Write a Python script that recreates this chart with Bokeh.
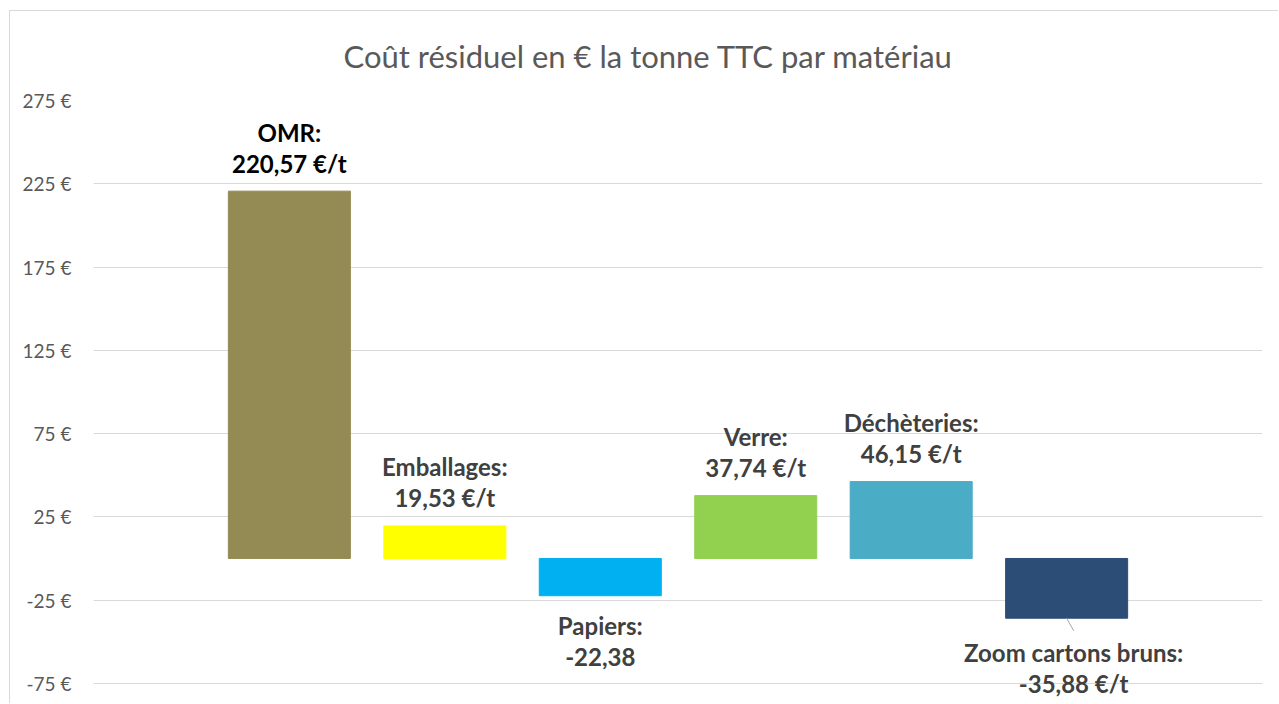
from bokeh.plotting import figure
from bokeh.models import ColumnDataSource, Range1d, FixedTicker, PrintfTickFormatter
from bokeh.core.properties import value
from bokeh.embed import file_html
from bokeh.resources import INLINE

# ---- data ----
categories = ["OMR", "Emballages", "Papiers", "Verre", "Déchèteries", "Zoom cartons bruns"]
values = [220.57, 19.53, -22.38, 37.74, 46.15, -35.88]
name_labels = ["OMR:", "Emballages:", "Papiers:", "Verre:", "Déchèteries:", "Zoom cartons bruns:"]
value_labels = ["220,57 €/t", "19,53 €/t", "-22,38", "37,74 €/t", "46,15 €/t", "-35,88 €/t"]
colors = ["#948A54", "#FFFF00", "#00B0F0", "#92D050", "#4BACC6", "#2C4D75"]
label_colors = ["#000000", "#404040", "#404040", "#404040", "#404040", "#404040"]
y_ticks = [-75, -25, 25, 75, 125, 175, 225, 275]

FONT = "Lato"
xs = list(range(len(categories)))

# label offsets (screen px): above for positive, below for negative
name_off = []
val_off = []
x_off = []
for v in values:
    if v >= 0:
        name_off.append(-59)
        val_off.append(-28)
    else:
        name_off.append(30)
        val_off.append(61)
    x_off.append(0)
x_off[5] = 7
name_off[5] = 34
val_off[5] = 65

src = ColumnDataSource(dict(x=xs, top=values, color=colors, name=name_labels,
                            val=value_labels, lc=label_colors,
                            noff=name_off, voff=val_off, xoff=x_off))

p = figure(width=1269, height=693, output_backend="svg", toolbar_location=None,
           x_range=Range1d(-1.26, 6.26), y_range=Range1d(-87.7, 275),
           min_border_left=83, min_border_right=17, min_border_top=89, min_border_bottom=0)
p.styles = {"border-left": "1px solid #D9D9D9", "border-top": "1px solid #D9D9D9",
            "margin-left": "9px", "margin-top": "10px"}

p.title.text = "Coût résiduel en € la tonne TTC par matériau"
p.title.align = "left"
p.title.offset = 250
p.title.vertical_align = "top"
p.title.standoff = 48
p.title.text_font = FONT
p.title.text_font_style = "normal"
p.title.text_font_size = "31px"
p.title.text_color = "#595959"

p.vbar(x="x", top="top", bottom=0, width=0.785, color="color", source=src)

# leader line for last label
lx = xs[5]
p.segment(x0=[lx], y0=[values[5]], x1=[lx + 0.045], y1=[values[5] - 7.5],
          line_color="#A6A6A6", line_width=1)

p.text(x="x", y="top", text="name", x_offset="xoff", y_offset="noff", source=src,
       text_font=value(FONT), text_font_style="bold", text_font_size="24px",
       text_color="lc", text_align="center", text_baseline="middle")
p.text(x="x", y="top", text="val", x_offset="xoff", y_offset="voff", source=src,
       text_font=value(FONT), text_font_style="bold", text_font_size="24px",
       text_color="lc", text_align="center", text_baseline="middle")

p.xaxis.visible = False
p.xgrid.visible = False
p.ygrid.grid_line_color = "#D9D9D9"
p.ygrid.grid_line_width = 1
p.yaxis.ticker = FixedTicker(ticks=y_ticks)
p.yaxis.formatter = PrintfTickFormatter(format="%d €")
p.yaxis.axis_line_color = None
p.yaxis.major_tick_line_color = None
p.yaxis.minor_tick_line_color = None
p.yaxis.major_label_standoff = 16
p.yaxis.major_label_text_font = FONT
p.yaxis.major_label_text_font_size = "19px"
p.yaxis.major_label_text_color = "#595959"
p.outline_line_color = None
p.background_fill_color = "white"
p.border_fill_color = "white"

open("out.html", "w").write(file_html(p, INLINE))
